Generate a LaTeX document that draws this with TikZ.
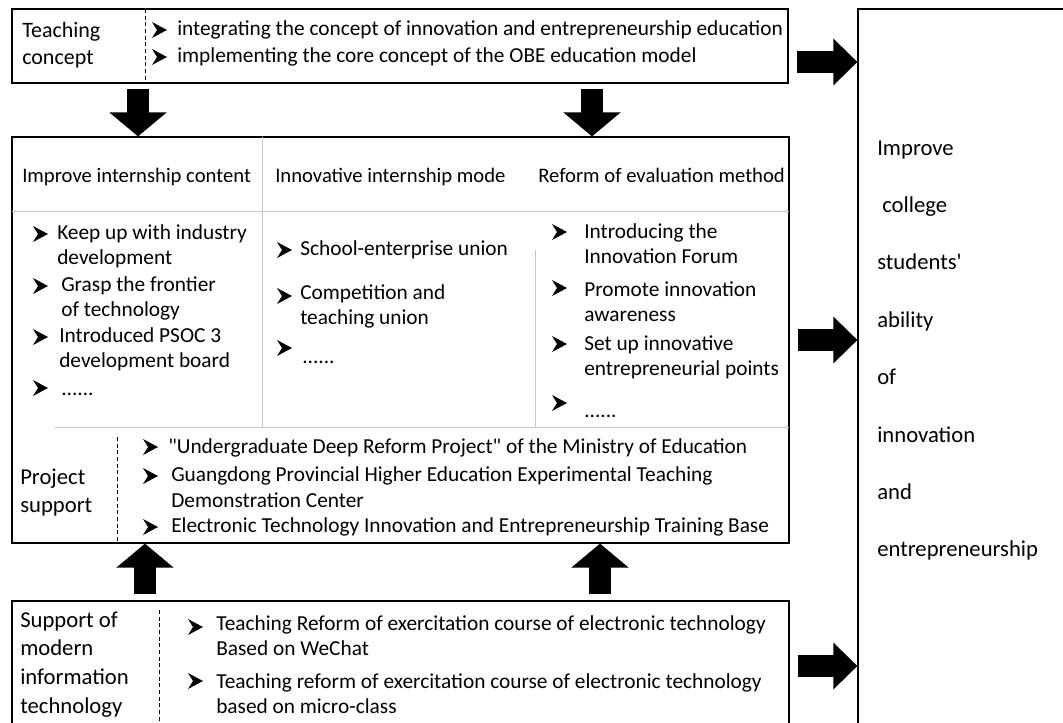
\documentclass[tikz,border=0pt]{standalone}
\usepackage{fontspec}
\setmainfont{Carlito}
\usetikzlibrary{arrows.meta,fit}

\tikzset{
  box/.style={draw, line width=0.9pt, inner sep=0pt},
  txt/.style={anchor=base west, inner sep=0pt, align=left},
  sep/.style={line width=0.7pt, dash pattern=on 3pt off 2pt},
  faint/.style={draw=gray!45, line width=0.6pt},
  bigarrow/.style={line width=17pt, -{Triangle[width=#1, length=18pt]}},
  bigarrow/.default=42pt,
  bul/.pic={\fill (0,-8) -- (15,0) -- (0,8) -- (5,0) -- cycle;}
}

\begin{document}
\begin{tikzpicture}[x=0.75pt, y=-0.75pt, font=\fontsize{16}{18.75}\selectfont]
  \useasboundingbox (0,0) rectangle (1063,722);

  % boxes
  \node[box, fit={(12,9) (788,83)}] (concept) {};
  \node[box, fit={(12,137) (789,543)}] (mid) {};
  \node[box, fit={(12,601) (789,740)}] (infotech) {};
  \node[box, fit={(858,9) (1080,740)}] (result) {};

  % dividers
  \draw[sep] (145,9) -- (145,83);
  \draw[faint] (12,211) -- (789,211);
  \draw[faint] (262,137) -- (262,427);
  \draw[faint] (535,250) -- (535,427);
  \draw[faint] (55,427) -- (789,427);
  \draw[sep] (117,437) -- (117,543);
  \draw[sep] (159,610) -- (159,722);

  % teaching concept (multi-line nodes sit on their last baseline)
  \node[txt, font=\fontsize{16.5}{20.25}\selectfont] (tc) at (22,64) {Teaching\\concept};
  \pic at (152,30) {bul};
  \pic at (152,57) {bul};
  \node[txt] (tc1) at (177,35) {integrating the concept of innovation and entrepreneurship education};
  \node[txt] (tc2) at (177,62) {implementing the core concept of the OBE education model};

  % headers
  \node[txt, font=\fontsize{15.5}{18.75}\selectfont] (h1) at (22,182) {Improve internship content};
  \node[txt, font=\fontsize{15.5}{18.75}\selectfont] (h2) at (275,182) {Innovative internship mode};
  \node[txt, font=\fontsize{15.5}{18.75}\selectfont] (h3) at (538,182) {Reform of evaluation method};

  % improve internship content
  \pic at (33,234) {bul};
  \node[txt] (c1) at (57,264) {Keep up with industry\\development};
  \pic at (33,286) {bul};
  \node[txt] (c2) at (61,316) {Grasp the frontier\\of technology};
  \pic at (33,337) {bul};
  \node[txt] (c3) at (59,367) {Introduced PSOC 3\\development board};
  \pic at (33,388) {bul};
  \node[txt] (c4) at (61,395) {......};

  % innovative internship mode
  \pic at (277,250) {bul};
  \node[txt] (m1) at (300,255) {School-enterprise union};
  \pic at (277,296) {bul};
  \node[txt] (m2) at (300,324) {Competition and\\teaching union};
  \pic at (277,348) {bul};
  \node[txt] (m3) at (302,363) {......};

  % reform of evaluation method
  \pic at (552,232) {bul};
  \node[txt] (e1) at (584,263) {Introducing the\\Innovation Forum};
  \pic at (552,288) {bul};
  \node[txt] (e2) at (584,321) {Promote innovation\\awareness};
  \pic at (552,344) {bul};
  \node[txt] (e3) at (584,375) {Set up innovative\\entrepreneurial points};
  \pic at (552,403) {bul};
  \node[txt] (e4) at (584,417) {......};

  % project support
  \node[txt, font=\fontsize{17}{21}\selectfont] (ps) at (20,512) {Project\\support};
  \pic at (143,447) {bul};
  \node[txt] (ps1) at (168,453) {\textquotedbl Undergraduate Deep Reform Project\textquotedbl\ of the Ministry of Education};
  \pic at (143,476) {bul};
  \node[txt, font=\fontsize{16}{19.5}\selectfont] (ps2) at (171,507) {Guangdong Provincial Higher Education Experimental Teaching\\Demonstration Center};
  \pic at (143,527) {bul};
  \node[txt] (ps3) at (171,532) {Electronic Technology Innovation and Entrepreneurship Training Base};

  % modern information technology
  \node[txt, font=\fontsize{17}{21.4}\selectfont] (it) at (20,713) {Support of\\modern\\information\\technology};
  \pic at (188,627) {bul};
  \node[txt] (it1) at (216,655) {Teaching Reform of exercitation course of electronic technology\\Based on WeChat};
  \pic at (188,681) {bul};
  \node[txt] (it2) at (216,713) {Teaching reform of exercitation course of electronic technology\\based on micro-class};

  % result
  \foreach \w [count=\i] in {Improve,{\hspace{3.75pt}college},students\textquotesingle,ability,of,innovation,and,entrepreneurship}
    \node[txt, font=\fontsize{17}{20}\selectfont] (res\i) at (877,{155+57.4*(\i-1)}) {\w};

  % arrows
  \coordinate (d1) at (138,0);
  \coordinate (d2) at (592,0);
  \coordinate (u1) at (145,0);
  \coordinate (u2) at (600,0);
  \coordinate (r1) at (0,62);
  \coordinate (r2) at (0,340);
  \coordinate (r3) at (0,666);
  \draw[bigarrow, shorten <=3.75pt] (d1 |- concept.south) -- (d1 |- mid.north);
  \draw[bigarrow, shorten <=3.75pt] (d2 |- concept.south) -- (d2 |- mid.north);
  \draw[bigarrow, shorten <=4.5pt] (u1 |- infotech.north) -- (u1 |- mid.south);
  \draw[bigarrow, shorten <=4.5pt] (u2 |- infotech.north) -- (u2 |- mid.south);
  \draw[bigarrow=34pt, shorten <=6pt] (r1 -| concept.east) -- (r1 -| result.west);
  \draw[bigarrow=34pt, shorten <=6pt] (r2 -| mid.east) -- (r2 -| result.west);
  \draw[bigarrow=34pt, shorten <=6pt] (r3 -| infotech.east) -- (r3 -| result.west);
\end{tikzpicture}
\end{document}
